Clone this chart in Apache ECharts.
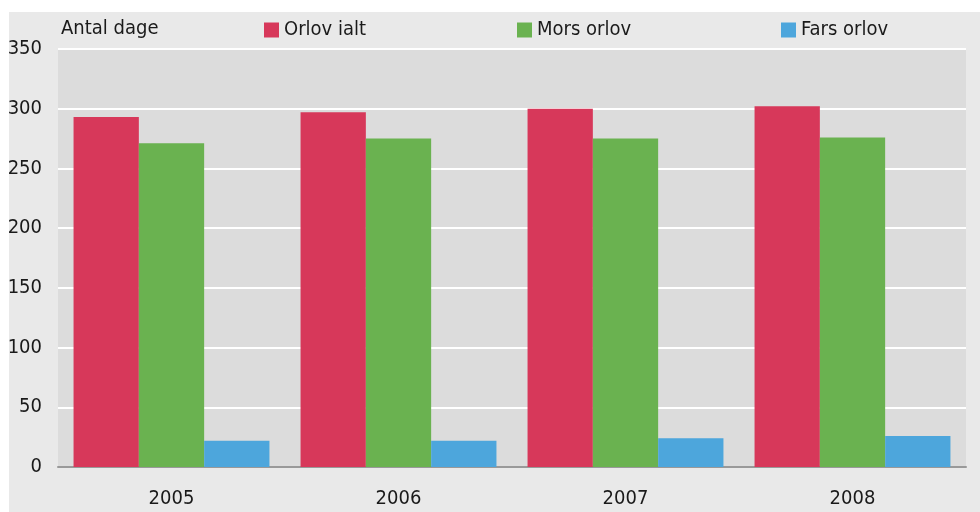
<!DOCTYPE html>
<html>
<head>
<meta charset="utf-8">
<script src="https://cdn.jsdelivr.net/npm/echarts@6/dist/echarts.min.js"></script>
<style>
html,body{margin:0;padding:0;background:#ffffff;}
#chart{width:980px;height:512px;}
</style>
</head>
<body>
<div id="chart"></div>
<script>
const categories = ['2005', '2006', '2007', '2008'];
const orlovIalt = [293, 297, 300, 302];
const morsOrlov = [271, 275, 275, 276];
const farsOrlov = [22, 22, 24, 26];
const seriesNames = ['Orlov ialt', 'Mors orlov', 'Fars orlov'];
const colors = ['#d7385a', '#6ab250', '#4da6dc'];
const yTitle = 'Antal dage';

const FONT = '"Liberation Sans Narrow", "DejaVu Sans Condensed", "Noto Sans", sans-serif';
const chart = echarts.init(document.getElementById('chart'), null, {renderer: 'canvas'});

function legendAt(name, left) {
  return {
    data: [name], left: left, top: 20, padding: 0,
    icon: 'rect', itemWidth: 15, itemHeight: 15, itemGap: 6,
    selectedMode: false,
    textStyle: {fontFamily: FONT, fontSize: 20, color: '#1a1a1a', padding: [0, 0, 0, 0]}
  };
}

chart.setOption({
  backgroundColor: '#ffffff',
  animation: false,
  color: colors,
  graphic: [{
    type: 'rect', z: -10, silent: true,
    shape: {x: 9, y: 12, width: 971, height: 500},
    style: {fill: '#e9e9e9'}
  }, {
    type: 'text', left: 61, top: 19, z: 10,
    style: {text: yTitle, font: '20px ' + FONT, fill: '#1a1a1a'}
  }],
  legend: [legendAt(seriesNames[0], 264), legendAt(seriesNames[1], 517), legendAt(seriesNames[2], 781)],
  grid: {
    left: 58, right: 14, top: 49, bottom: 45,
    show: true, backgroundColor: '#dcdcdc', borderWidth: 0
  },
  xAxis: {
    type: 'category', data: categories,
    axisLine: {show: true, lineStyle: {color: '#999', width: 2}},
    axisTick: {show: false},
    axisLabel: {fontFamily: FONT, fontSize: 20, color: '#1a1a1a', margin: 22}
  },
  yAxis: {
    type: 'value', min: 0, max: 350, interval: 50,
    axisLine: {show: false}, axisTick: {show: false},
    splitLine: {show: true, lineStyle: {color: '#ffffff', width: 2}},
    axisLabel: {fontFamily: FONT, fontSize: 20, color: '#1a1a1a', margin: 16}
  },
  series: [
    {name: seriesNames[0], type: 'bar', data: orlovIalt, barGap: '0%', barCategoryGap: '13.7%', itemStyle: {color: colors[0]}},
    {name: seriesNames[1], type: 'bar', data: morsOrlov, barGap: '0%', barCategoryGap: '13.7%', itemStyle: {color: colors[1]}},
    {name: seriesNames[2], type: 'bar', data: farsOrlov, barGap: '0%', barCategoryGap: '13.7%', itemStyle: {color: colors[2]}}
  ]
});
</script>
</body>
</html>
